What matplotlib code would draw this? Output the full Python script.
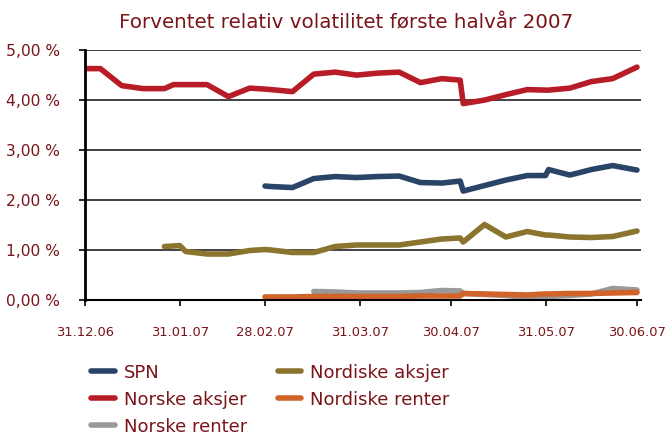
import matplotlib
matplotlib.use("Agg")
import matplotlib.pyplot as plt
import numpy as np
import pandas as pd

# -----------------------------------------------------------
# DATA (weekly readings, two extra points around 04.05 and 01.06)
# -----------------------------------------------------------
dates = pd.to_datetime([
    "2006-12-31", "2007-01-05", "2007-01-12", "2007-01-19", "2007-01-26",
    "2007-01-29", "2007-01-31", "2007-02-02", "2007-02-09", "2007-02-16",
    "2007-02-23", "2007-02-28", "2007-03-02", "2007-03-09", "2007-03-16",
    "2007-03-23", "2007-03-30", "2007-04-06", "2007-04-13", "2007-04-20",
    "2007-04-27", "2007-05-03", "2007-05-04", "2007-05-11", "2007-05-18",
    "2007-05-25", "2007-05-31", "2007-06-01", "2007-06-08", "2007-06-15",
    "2007-06-22", "2007-06-30",
])

nan = np.nan
spn = [nan, nan, nan, nan, nan,
       nan, nan, nan, nan, nan,
       nan, 2.28, 2.27, 2.25, 2.43,
       2.47, 2.45, 2.47, 2.48, 2.35,
       2.34, 2.38, 2.18, 2.29, 2.40,
       2.49, 2.49, 2.61, 2.50, 2.61,
       2.69, 2.60]
norske_aksjer = [4.63, 4.63, 4.29, 4.23, 4.23,
                 4.31, 4.31, 4.31, 4.31, 4.07,
                 4.24, 4.22, 4.21, 4.17, 4.52,
                 4.56, 4.50, 4.54, 4.56, 4.35,
                 4.43, 4.40, 3.93, 4.00, 4.11,
                 4.21, 4.20, 4.20, 4.24, 4.37,
                 4.43, 4.66]
norske_renter = [nan, nan, nan, nan, nan,
                 nan, nan, nan, nan, nan,
                 nan, nan, nan, nan, 0.17,
                 0.16, 0.14, 0.14, 0.14, 0.15,
                 0.19, 0.18, 0.13, 0.11, 0.09,
                 0.05, 0.07, 0.07, 0.09, 0.12,
                 0.23, 0.20]
nordiske_aksjer = [nan, nan, nan, nan, 1.07,
                   1.08, 1.09, 0.97, 0.92, 0.92,
                   0.99, 1.01, 1.00, 0.95, 0.95,
                   1.07, 1.10, 1.10, 1.10, 1.16,
                   1.22, 1.24, 1.16, 1.51, 1.26,
                   1.37, 1.30, 1.30, 1.26, 1.25,
                   1.27, 1.38]
nordiske_renter = [nan, nan, nan, nan, nan,
                   nan, nan, nan, nan, nan,
                   nan, 0.06, 0.06, 0.06, 0.07,
                   0.07, 0.07, 0.07, 0.07, 0.08,
                   0.08, 0.08, 0.13, 0.12, 0.11,
                   0.10, 0.12, 0.12, 0.13, 0.13,
                   0.14, 0.15]

tick_dates = pd.to_datetime(["2006-12-31", "2007-01-31", "2007-02-28", "2007-03-31",
                             "2007-04-30", "2007-05-31", "2007-06-30"])
tick_labels = ["31.12.06", "31.01.07", "28.02.07", "31.03.07",
               "30.04.07", "31.05.07", "30.06.07"]

TXT = "#7a1418"

# -----------------------------------------------------------
# PLOT
# -----------------------------------------------------------
fig = plt.figure(figsize=(6.65, 4.36), dpi=100)
ax = fig.add_axes([0.128, 0.312, 0.836, 0.573])

lw = 4.0
l_spn, = ax.plot(dates, spn, color="#2a4468", lw=lw, solid_capstyle="round", label="SPN")
l_na, = ax.plot(dates, norske_aksjer, color="#b81c26", lw=lw, solid_capstyle="round", label="Norske aksjer")
l_nr, = ax.plot(dates, norske_renter, color="#999999", lw=lw, solid_capstyle="round", label="Norske renter")
l_da, = ax.plot(dates, nordiske_aksjer, color="#8b742e", lw=lw, solid_capstyle="round", label="Nordiske aksjer")
l_dr, = ax.plot(dates, nordiske_renter, color="#d0622a", lw=lw, solid_capstyle="round", label="Nordiske renter")

ax.set_ylim(0, 5)
ax.set_xlim(pd.Timestamp("2006-12-31"), pd.Timestamp("2007-07-01 08:00"))
ax.set_yticks(np.arange(0, 5.01, 1))
ax.yaxis.set_major_formatter(plt.FuncFormatter(lambda v, p: ("%.2f %%" % v).replace(".", ",")))
ax.set_xticks(tick_dates)
ax.set_xticklabels(tick_labels)
ax.tick_params(axis="y", labelsize=11.2, length=4, width=1.2, pad=14, labelcolor=TXT)
ax.tick_params(axis="x", labelsize=9.4, length=4, width=1.2, pad=15, labelcolor=TXT)

ax.grid(axis="y", color="#333333", lw=1.3)
ax.set_axisbelow(True)
for s in ["top", "right"]:
    ax.spines[s].set_visible(False)
ax.spines["left"].set_linewidth(2)
ax.spines["bottom"].set_linewidth(1.5)

fig.text(0.52, 0.948, "Forventet relativ volatilitet første halvår 2007",
         ha="center", va="center", fontsize=14.3, color=TXT)

fig.legend(handles=[l_spn, l_na, l_nr, l_da, l_dr], ncol=2,
           loc="upper left", bbox_to_anchor=(0.118, 0.195), frameon=False,
           fontsize=13, handlelength=1.3, handletextpad=0.5, columnspacing=1.7,
           labelspacing=0.5, labelcolor=TXT, borderpad=0.2)

fig.savefig("out.png", dpi=100)
